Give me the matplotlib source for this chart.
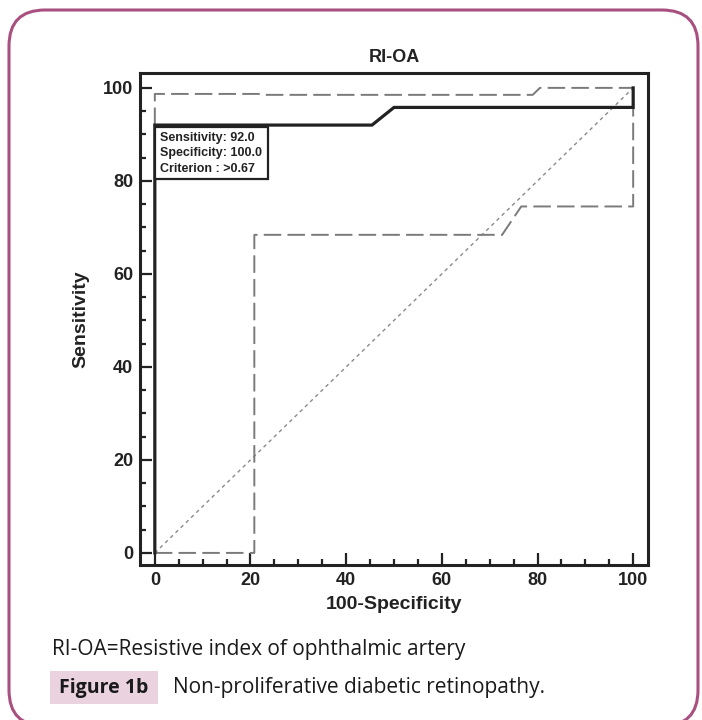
import matplotlib.pyplot as plt
import matplotlib.patches as mpatches
from matplotlib.transforms import IdentityTransform
from matplotlib.ticker import MultipleLocator

# ROC curve (solid) and confidence bounds (dashed)
roc_x = [0, 0, 45.4, 50, 100, 100]
roc_y = [0, 92, 92, 95.8, 95.8, 100]

upper_x = [0, 0, 22, 22.5, 79, 80.5, 100]
upper_y = [92, 98.7, 98.7, 98.5, 98.5, 100, 100]

lower_x = [0, 20.8, 20.8, 72.6, 76.6, 100, 100]
lower_y = [0, 0, 68.4, 68.4, 74.5, 74.5, 100]

diag_x = [0, 100]
diag_y = [0, 100]

box_lines = ['Sensitivity: 92.0', 'Specificity: 100.0', 'Criterion : >0.67']

FRAME = '#a8507f'
TAG_BG = '#ead3df'
INK = '#222222'
CAPTION_FONT = ['Open Sans', 'DejaVu Sans']

plt.rcParams['font.family'] = ['Liberation Sans', 'DejaVu Sans']

fig = plt.figure(figsize=(7.02, 7.2), dpi=100)

# rounded outer frame, in pixels (origin bottom-left); bottom runs off the image
frame = mpatches.FancyBboxPatch((9, -6), 689, 716,
                                boxstyle='round,pad=0,rounding_size=36',
                                transform=IdentityTransform(), facecolor='none',
                                edgecolor=FRAME, linewidth=2.2, zorder=0)
fig.patches.append(frame)

ax = fig.add_axes([140 / 702, 1 - 565 / 720, 508 / 702, 492 / 720])

ax.plot(diag_x, diag_y, color='#8a8a8a', linestyle=(0, (2.6, 2.6)), linewidth=1.0)
ax.plot(upper_x, upper_y, color='#7a7a7a', linestyle=(0, (9, 3.2)), linewidth=1.4)
ax.plot(lower_x, lower_y, color='#7a7a7a', linestyle=(0, (9, 3.2)), linewidth=1.4)
ax.plot(roc_x, roc_y, color=INK, linewidth=2.3, solid_joinstyle='miter')

# criterion box
ax.add_patch(mpatches.Rectangle((0, 80.4), 23.6, 11.2, facecolor='white',
                                edgecolor=INK, linewidth=1.6, zorder=5))
for i, line in enumerate(box_lines):
    ax.text(1.0, 89.3 - i * 3.4, line, fontsize=9, fontweight='bold',
            color=INK, va='center', ha='left', zorder=6)

ax.set_xlim(-3.1, 103.1)
ax.set_ylim(-2.6, 103.2)
ax.xaxis.set_major_locator(MultipleLocator(20))
ax.xaxis.set_minor_locator(MultipleLocator(5))
ax.yaxis.set_major_locator(MultipleLocator(20))
ax.yaxis.set_minor_locator(MultipleLocator(5))
ax.tick_params(which='both', direction='in', width=1.6, color=INK,
               labelsize=13, labelcolor=INK, pad=5)
ax.tick_params(which='major', length=8.5)
ax.tick_params(which='minor', length=4.5)
for lab in ax.get_xticklabels() + ax.get_yticklabels():
    lab.set_fontweight('bold')
for sp in ax.spines.values():
    sp.set_linewidth(2.2)
    sp.set_color(INK)

ax.set_title('RI-OA', fontsize=13, fontweight='bold', color=INK, pad=8)
ax.set_xlabel('100-Specificity', fontsize=14, fontweight='bold',
              color=INK, labelpad=5)
ax.set_ylabel('Sensitivity', fontsize=14, fontweight='bold',
              color=INK, labelpad=10)

# caption
fig.text(52 / 702, 1 - 650 / 720, 'RI-OA=Resistive index of ophthalmic artery',
         fontsize=15, family=CAPTION_FONT, va='center', color='#1a1a1a')
fig.patches.append(mpatches.Rectangle((50 / 702, 1 - 704 / 720), 108 / 702, 33 / 720,
                                      transform=fig.transFigure,
                                      facecolor=TAG_BG, edgecolor='none'))
fig.text(104 / 702, 1 - 688 / 720, 'Figure 1b', fontsize=14, fontweight='bold',
         family=CAPTION_FONT, ha='center', va='center', color='#1a1a1a')
fig.text(173 / 702, 1 - 688 / 720, 'Non-proliferative diabetic retinopathy.',
         fontsize=15, family=CAPTION_FONT, va='center', color='#1a1a1a')

fig.savefig('out.png', dpi=100)
